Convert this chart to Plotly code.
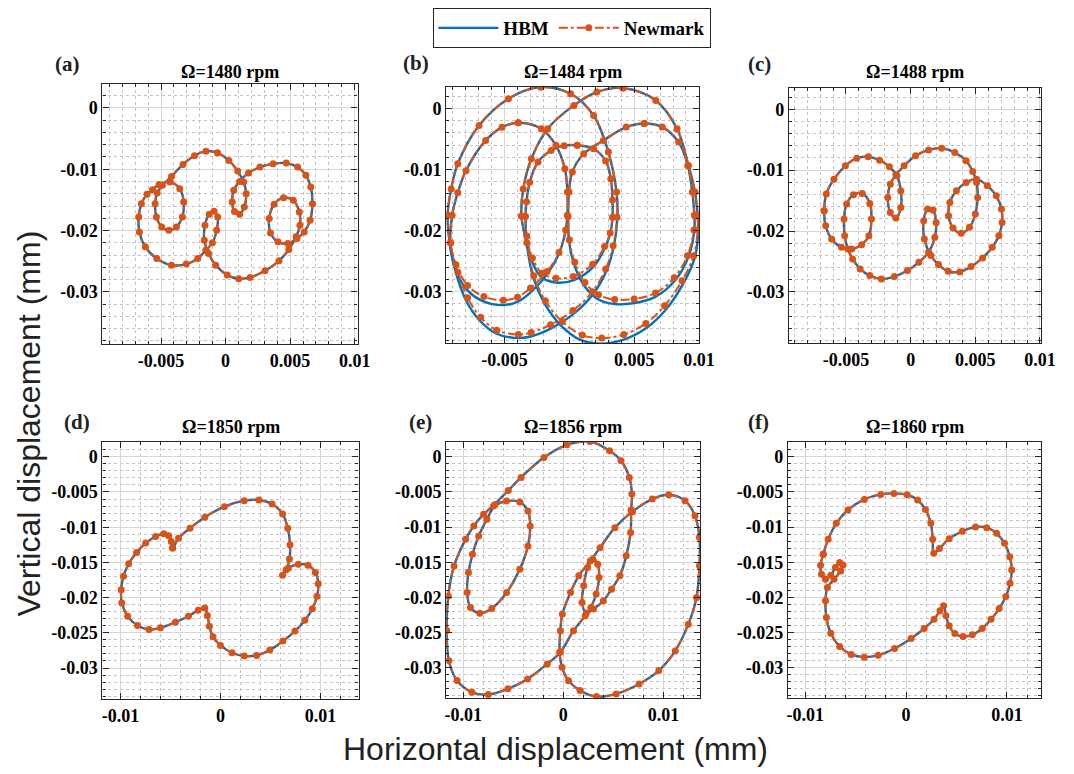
import plotly.graph_objects as go

# ---------------------------------------------------------------
# Orbit data, listed in units of 0.001 mm
# ---------------------------------------------------------------
UNIT = 1e-3

speeds = ["1480", "1484", "1488", "1850", "1856", "1860"]
panel_labels = ["(a)", "(b)", "(c)", "(d)", "(e)", "(f)"]

# (a) 1480 rpm
a_x = [-1.52, -2.16, -3.05, -4.19, -5.33, -6.22, -6.68, -6.73, -6.52, -6.09, -5.66, -5.15,
       -4.31, -3.55, -3.25, -3.35, -3.81, -4.39, -4.95, -5.36, -5.46, -5.30, -4.90, -4.19,
       -3.30, -2.41, -1.52, -0.63, 0.25, 0.94, 1.40, 1.60, 1.45, 1.09, 0.69, 0.51, 0.63,
       1.09, 1.78, 2.66, 3.68, 4.70, 5.58, 6.22, 6.60, 6.73, 6.55, 6.09, 5.53, 4.82, 4.06,
       3.48, 3.38, 3.76, 4.49, 5.25, 5.71, 5.76, 5.46, 4.90, 4.14, 3.05, 1.90, 1.02, 0.13,
       -0.76, -1.32, -1.65, -1.60, -1.27, -0.89, -0.61, -0.69, -1.02, -1.52]
a_y = [-23.2, -24.55, -25.47, -25.64, -24.55, -22.66, -20.22, -17.78, -15.61, -14.09, -13.33,
       -12.47, -12.09, -13.17, -15.34, -17.78, -19.40, -19.95, -19.40, -17.78, -15.61, -13.88,
       -12.63, -11.17, -9.21, -7.80, -7.05, -7.32, -8.56, -10.30, -12.09, -13.98, -16.15,
       -17.34, -16.91, -15.34, -13.44, -11.98, -10.62, -9.65, -9.11, -9.00, -9.65, -11.00,
       -12.90, -15.61, -18.32, -20.22, -21.30, -22.11, -21.84, -20.38, -18.05, -15.72, -14.63,
       -15.07, -16.96, -19.13, -21.03, -23.09, -24.93, -26.56, -27.64, -27.86, -27.26, -25.64,
       -23.74, -21.57, -19.13, -17.34, -16.86, -17.78, -19.95, -22.0, -23.2]

# (b) 1484 rpm : five loops (HBM)
b_hbm_x = [-2.22, 0.10, 1.87, 3.01, 3.64, 3.71, 3.43, 2.88, 1.87, 0.35, -1.41, -2.93, -3.94,
           -5.70, -6.97, -7.98, -8.74, -9.24, -9.40, -9.12, -8.61, -6.97, -4.70, -2.22, None,
           -3.94, -2.17, -1.04, -0.35, -0.15, -0.15, -0.28, -0.78, -1.67, -2.93, -3.94, -5.08,
           -6.72, -7.98, -8.86, -9.19, -9.05, -8.61, -7.98, -6.46, -5.20, -3.94, None,
           4.14, 6.67, 8.31, 9.19, 9.70, 9.90, 9.95, 9.70, 8.81, 7.42, 5.91, 4.14, 2.37, 0.86,
           -0.66, -1.92, -2.80, -3.31, -3.70, -3.56, -2.93, -1.67, 0.35, 2.12, 4.14, None,
           5.78, 7.17, 8.43, 9.14, 9.49, 9.65, 9.65, 9.19, 8.18, 6.67, 4.90, 3.38, 2.12, 1.11,
           0.35, -0.03, -0.10, -0.03, 0.23, 1.11, 2.63, 4.39, 5.78, None,
           0.61, 1.87, 2.80, 3.20, 3.33, 3.33, 3.15, 2.75, 1.87, 0.35, -1.04, -2.17, -2.93,
           -3.31, -3.38, -3.31, -3.06, -2.42, -1.41, -0.40, 0.61]
b_hbm_y = [3.49, 2.39, -1.16, -7.15, -13.7, -17.8, -22.6, -26.5, -30.3, -33.6, -36.0, -37.3,
           -37.6, -36.8, -34.6, -31.4, -27.0, -22.0, -17.5, -13.2, -9.06, -2.8, 1.58, 3.49, None,
           -2.35, -3.33, -6.05, -9.87, -13.7, -17.5, -19.9, -23.7, -27.0, -30.0, -31.6, -32.2,
           -31.5, -29.5, -25.9, -22.1, -17.5, -13.8, -10.2, -5.24, -3.1, -2.35, None,
           3.32, 1.30, -3.34, -9.33, -13.7, -17.5, -19.9, -24.3, -28.6, -33.0, -36.0, -37.9,
           -38.5, -37.9, -35.5, -31.9, -27.6, -22.1, -17.6, -13.2, -8.24, -3.33, 0.49, 2.67,
           3.32, None,
           -2.47, -3.06, -5.51, -9.33, -13.7, -17.5, -19.9, -24.3, -28.1, -30.8, -31.9, -32.0,
           -31.1, -28.9, -25.4, -21.6, -17.7, -13.7, -10.4, -7.43, -5.24, -3.06, -2.47, None,
           -6.05, -6.6, -8.6, -11.5, -15.0, -17.8, -20.5, -22.8, -25.9, -28.1, -28.5, -27.6,
           -24.8, -21.0, -17.7, -15.3, -12.1, -8.79, -6.88, -6.1, -6.05]

# (b) 1484 rpm : Newmark (slightly shallower at the bottoms)
b_nm_x = [-2.22, 0.10, 1.87, 3.01, 3.64, 3.68, 3.38, 2.80, 1.78, 0.28, -1.45, -2.95, -3.94,
          -5.60, -6.85, -7.85, -8.60, -9.20, -9.40, -9.12, -8.61, -6.97, -4.70, -2.22, None,
          -3.94, -2.17, -1.04, -0.35, -0.15, -0.15, -0.28, -0.80, -1.72, -3.00, -4.00, -5.10,
          -6.60, -7.85, -8.75, -9.15, -9.05, -8.61, -7.98, -6.46, -5.20, -3.94, None,
          4.14, 6.67, 8.31, 9.19, 9.70, 9.90, 9.90, 9.60, 8.70, 7.35, 5.90, 4.20, 2.50, 1.00,
          -0.55, -1.85, -2.75, -3.28, -3.70, -3.56, -2.93, -1.67, 0.35, 2.12, 4.14, None,
          5.78, 7.17, 8.43, 9.14, 9.49, 9.65, 9.62, 9.12, 8.10, 6.65, 5.00, 3.50, 2.25, 1.20,
          0.42, 0.00, -0.10, -0.03, 0.23, 1.11, 2.63, 4.39, 5.78, None,
          0.61, 1.87, 2.80, 3.20, 3.33, 3.33, 3.15, 2.72, 1.80, 0.30, -1.04, -2.10, -2.85,
          -3.28, -3.38, -3.31, -3.06, -2.42, -1.41, -0.40, 0.61]
b_nm_y = [3.49, 2.39, -1.16, -7.15, -13.7, -17.8, -22.5, -26.3, -30.0, -33.1, -35.4, -36.7,
          -37.0, -36.3, -34.2, -31.0, -26.8, -22.0, -17.5, -13.2, -9.06, -2.8, 1.58, 3.49, None,
          -2.35, -3.33, -6.05, -9.87, -13.7, -17.5, -19.9, -23.6, -26.7, -29.4, -30.9, -31.4,
          -30.8, -29.0, -25.6, -22.0, -17.5, -13.8, -10.2, -5.24, -3.1, -2.35, None,
          3.32, 1.30, -3.34, -9.33, -13.7, -17.5, -19.9, -24.1, -28.2, -32.3, -35.2, -37.0,
          -37.6, -37.1, -34.9, -31.5, -27.4, -22.0, -17.6, -13.2, -8.24, -3.33, 0.49, 2.67,
          3.32, None,
          -2.47, -3.06, -5.51, -9.33, -13.7, -17.5, -19.9, -24.1, -27.7, -30.2, -31.2, -31.3,
          -30.5, -28.5, -25.2, -21.5, -17.7, -13.7, -10.4, -7.43, -5.24, -3.06, -2.47, None,
          -6.05, -6.6, -8.6, -11.5, -15.0, -17.8, -20.4, -22.6, -25.5, -27.5, -27.8, -27.0,
          -24.5, -20.9, -17.7, -15.3, -12.1, -8.79, -6.88, -6.1, -6.05]

# (c) 1488 rpm
c_x = [-6.69, -6.52, -5.93, -5.05, -4.17, -3.28, -2.40, -1.64, -1.06, -0.76, -0.76, -1.14,
       -1.57, -1.77, -1.57, -1.14, -0.51, 0.38, 1.39, 2.40, 3.41, 4.29, 4.80, 5.10, 5.18,
       5.00, 4.55, 3.91, 3.28, 2.93, 3.03, 3.54, 4.29, 5.10, 5.93, 6.62, 7.02, 7.07, 6.82,
       6.31, 5.56, 4.67, 3.79, 2.90, 2.15, 1.57, 1.06, 1.01, 1.31, 1.72, 1.97, 1.87, 1.39,
       0.63, -0.25, -1.26, -2.27, -3.16, -3.91, -4.49, -4.85, -5.10, -5.15, -4.95, -4.42,
       -3.74, -3.16, -3.03, -3.23, -3.79, -4.55, -5.35, -6.11, -6.57, -6.69]
c_y = [-16.67, -13.93, -11.48, -9.29, -8.03, -7.81, -8.36, -9.45, -10.93, -13.39, -16.12,
       -17.87, -16.94, -14.48, -12.30, -10.77, -9.29, -7.65, -6.67, -6.39, -7.10, -8.47,
       -10.22, -12.02, -14.48, -17.21, -19.40, -20.38, -19.51, -17.49, -15.30, -13.39, -12.02,
       -11.48, -12.57, -14.21, -16.39, -18.58, -20.77, -22.68, -24.43, -25.85, -26.72, -26.61,
       -25.52, -24.04, -21.31, -18.31, -16.39, -16.56, -18.58, -21.04, -23.50, -25.14, -26.50,
       -27.49, -27.87, -27.32, -26.23, -24.59, -22.95, -20.77, -18.03, -15.57, -14.04, -13.83,
       -15.46, -18.03, -20.77, -22.24, -22.95, -22.68, -21.31, -19.13, -16.67]

# (d) 1850 rpm
d_x = [-4.79, -4.20, -3.05, -1.57, 0.39, 2.36, 3.84, 5.15, 6.20, 6.72, 6.95, 6.89, 6.56,
       6.20, 6.79, 7.77, 8.75, 9.48, 9.77, 9.64, 9.18, 8.43, 7.44, 6.23, 4.92, 3.61, 2.36,
       1.15, 0.00, -0.75, -1.11, -1.31, -1.57, -2.23, -3.21, -4.52, -6.00, -7.15, -8.30,
       -9.28, -9.87, -9.93, -9.70, -9.18, -8.39, -7.48, -6.49, -5.67, -5.18, -4.92, -4.79]
d_y = [-12.97, -11.56, -10.14, -8.58, -7.08, -6.23, -6.13, -6.70, -8.11, -10.14, -12.50,
       -14.53, -16.04, -16.84, -15.80, -15.28, -15.42, -16.42, -18.02, -19.81, -21.60, -23.21,
       -24.76, -26.18, -27.45, -28.21, -28.30, -27.83, -26.79, -25.57, -24.06, -22.55, -21.46,
       -21.79, -22.64, -23.49, -24.29, -24.53, -23.96, -22.64, -20.75, -18.87, -16.98, -15.19,
       -13.58, -12.26, -11.32, -10.94, -11.23, -12.03, -12.97]

# (e) 1856 rpm : two big loops (A with the two small loops, then B)
e_x = [6.78, 6.72, 6.29, 5.64, 4.82, 4.00, 3.01, 2.29, 1.87, 2.03, 2.43, 2.95, 3.44, 3.57,
       3.28, 2.75, 2.19, 1.01, -0.30, -1.61, -3.57, -5.54, -7.50, -9.14, -10.62, -11.44,
       -11.65, -11.50, -10.92, -9.77, -8.95, -7.97, -6.98, -5.67, -4.36, -3.54, -3.31, -3.54,
       -4.36, -5.67, -7.15, -8.36, -9.28, -9.61, -9.48, -9.08, -8.46, -7.64, -6.82, -5.50,
       -4.23, -1.94, 0.36, 2.65, 4.62, 5.77, 6.59, 6.85, 6.78, None,
       6.90, 8.89, 10.53, 12.16, 13.15, 13.60, 13.60, 13.31, 12.49, 11.18, 9.54, 7.57, 5.28,
       3.31, 1.67, 0.52, -0.13, -0.37, -0.30, -0.10, 0.72, 1.54, 2.69, 3.67, 5.15, 6.90]
e_y = [-7.60, -10.78, -14.09, -16.93, -18.82, -20.48, -21.66, -22.23, -20.71, -18.35, -15.75,
       -14.57, -15.28, -17.17, -19.53, -21.42, -22.60, -24.74, -27.80, -29.46, -31.59, -33.00,
       -33.81, -33.48, -31.82, -29.00, -24.70, -19.78, -15.52, -11.74, -9.84, -8.19, -7.00,
       -6.29, -6.44, -7.71, -9.84, -12.68, -16.00, -19.31, -21.58, -22.24, -21.44, -19.31,
       -16.47, -13.87, -11.26, -8.90, -6.77, -4.80, -2.93, -0.10, 1.70, 2.17, 0.85, -0.57,
       -2.93, -5.30, -7.60, None,
       -7.80, -6.01, -5.40, -6.24, -8.37, -11.45, -15.50, -20.00, -23.80, -27.60, -30.40,
       -32.30, -33.72, -34.10, -33.24, -31.83, -29.93, -27.80, -24.74, -22.37, -19.29, -16.93,
       -14.81, -12.92, -10.08, -7.80]

# (f) 1860 rpm
f_x = [-8.22, -7.73, -6.92, -5.77, -4.14, -2.51, -1.21, 0.10, 1.14, 1.92, 2.45, 2.64, 2.74,
       3.30, 4.27, 5.58, 6.88, 7.99, 8.97, 9.76, 10.28, 10.47, 10.31, 9.89, 9.23, 8.42, 7.54,
       6.56, 5.64, 4.83, 4.27, 3.95, 3.72, 3.36, 2.77, 1.79, 0.49, -1.14, -2.77, -4.14,
       -5.45, -6.59, -7.47, -7.90, -7.99, -7.80, -7.15, -6.49, -6.26, -6.59, -7.01, -7.47,
       -7.99, -8.39, -8.48, -8.22]
f_y = [-13.87, -11.74, -9.47, -7.57, -6.06, -5.35, -5.21, -5.40, -6.15, -7.48, -9.47, -11.74,
       -13.72, -13.06, -11.64, -10.60, -9.99, -10.08, -10.88, -12.30, -14.20, -16.09, -17.98,
       -19.88, -21.58, -23.10, -24.42, -25.32, -25.56, -25.13, -24.04, -22.62, -21.20, -21.91,
       -23.10, -24.42, -25.84, -27.26, -28.21, -28.49, -28.11, -26.98, -25.08, -22.86, -20.49,
       -18.60, -17.42, -16.23, -15.38, -15.05, -15.76, -16.85, -17.42, -16.71, -15.43, -13.87]

hbm_x = [a_x, b_hbm_x, c_x, d_x, e_x, f_x]
hbm_y = [a_y, b_hbm_y, c_y, d_y, e_y, f_y]
nm_x = [a_x, b_nm_x, c_x, d_x, e_x, f_x]
nm_y = [a_y, b_nm_y, c_y, d_y, e_y, f_y]

# axis ranges (mm) and tick labels
x_ranges = [[-0.00954, 0.01023], [-0.0095, 0.01004], [-0.0094, 0.0101],
            [-0.0118, 0.0138], [-0.0117, 0.0137], [-0.0117, 0.0134]]
y_ranges = [[-0.0385, 0.0039], [-0.0384, 0.0035], [-0.0384, 0.0035],
            [-0.0344, 0.0021], [-0.0343, 0.0021], [-0.0343, 0.0021]]
top_xticks = [-0.005, 0, 0.005, 0.01]
top_xtext = ["-0.005", "0", "0.005", "0.01"]
top_yticks = [0, -0.01, -0.02, -0.03]
top_ytext = ["0", "-0.01", "-0.02", "-0.03"]
bot_xticks = [-0.01, 0, 0.01]
bot_xtext = ["-0.01", "0", "0.01"]
bot_yticks = [0, -0.005, -0.01, -0.015, -0.02, -0.025, -0.03]
bot_ytext = ["0", "-0.005", "-0.01", "-0.015", "-0.02", "-0.025", "-0.03"]

# ---------------------------------------------------------------
W, H = 1074, 774
BLUE = "#0072BD"
ORANGE = "#D95319"
SERIF = "Liberation Serif"
SANS = "Liberation Sans"

# pixel boxes of the six axes: (left, right, top, bottom)
boxes = [(103, 362, 84, 344), (452, 709, 87, 343), (800, 1056, 88, 343),
         (103, 363, 442, 699), (452, 710, 442, 698), (799, 1056, 442, 698)]

fig = go.Figure()
layout = dict(width=W, height=H, margin=dict(l=0, r=0, t=0, b=0),
              paper_bgcolor="white", plot_bgcolor="white", showlegend=True)

tick_font = dict(family=SERIF, size=18, color="black", weight="bold")

annotations = []
for i in range(6):
    n = "" if i == 0 else str(i + 1)
    L, R, T, B = boxes[i]
    xd = [L / W, R / W]
    yd = [1 - B / H, 1 - T / H]
    top = i < 3
    xa = dict(domain=xd, anchor="y" + n, range=x_ranges[i],
              tickmode="array",
              tickvals=top_xticks if top else bot_xticks,
              ticktext=top_xtext if top else bot_xtext,
              minor=dict(tickmode="linear", tick0=0, dtick=0.001 if top else 0.002,
                         ticks="inside", ticklen=3, tickcolor="#262626",
                         showgrid=True, gridcolor="#c4c4c4", griddash="dot", gridwidth=1))
    ya = dict(domain=yd, anchor="x" + n, range=y_ranges[i],
              tickmode="array",
              tickvals=top_yticks if top else bot_yticks,
              ticktext=top_ytext if top else bot_ytext,
              minor=dict(tickmode="linear", tick0=0, dtick=0.002 if top else 0.001,
                         ticks="inside", ticklen=3, tickcolor="#262626",
                         showgrid=True, gridcolor="#c4c4c4", griddash="dot", gridwidth=1))
    for ax in (xa, ya):
        ax.update(showline=True, linecolor="#262626", linewidth=1.3, mirror="allticks",
                  ticks="inside", ticklen=6, tickwidth=1, tickcolor="#262626",
                  showgrid=True, gridcolor="#d6d6d6", gridwidth=1, zeroline=False,
                  tickfont=tick_font, fixedrange=True)
    layout["xaxis" + n] = xa
    layout["yaxis" + n] = ya

    hx = [None if v is None else v * UNIT for v in hbm_x[i]]
    hy = [None if v is None else v * UNIT for v in hbm_y[i]]
    nx = [None if v is None else v * UNIT for v in nm_x[i]]
    ny = [None if v is None else v * UNIT for v in nm_y[i]]

    fig.add_trace(go.Scatter(x=hx, y=hy, mode="lines", name="HBM",
                             line=dict(color=BLUE, width=2.4, shape="spline", smoothing=1.0),
                             legendgroup="hbm", showlegend=(i == 0),
                             xaxis="x" + n, yaxis="y" + n))
    fig.add_trace(go.Scatter(x=nx, y=ny, mode="lines+markers", name="Newmark",
                             line=dict(color=ORANGE, width=2, dash="dashdot",
                                       shape="spline", smoothing=1.0),
                             marker=dict(color=ORANGE, size=7, symbol="circle"),
                             legendgroup="nm", showlegend=(i == 0),
                             xaxis="x" + n, yaxis="y" + n))

    # subplot title
    cx = (L + R) / 2 / W
    ty = 72 if top else 427
    annotations.append(dict(text="Ω=" + speeds[i] + " rpm", x=cx, y=1 - ty / H,
                            xref="paper", yref="paper", xanchor="center", yanchor="middle",
                            showarrow=False,
                            font=dict(family=SERIF, size=18, color="black", weight="bold")))

label_pos = [(68, 64), (421, 63), (770, 64), (77, 422), (426, 422), (769, 422)]
for lab, (px, py) in zip(panel_labels, label_pos):
    annotations.append(dict(text=lab, x=px / W, y=1 - py / H, xref="paper", yref="paper",
                            xanchor="center", yanchor="middle", showarrow=False,
                            font=dict(family=SERIF, size=21, color="#222222", weight="bold")))

annotations.append(dict(text="Vertical displacement (mm)", x=28 / W, y=1 - 424 / H,
                        xref="paper", yref="paper", xanchor="center", yanchor="middle",
                        textangle=-90, showarrow=False,
                        font=dict(family=SANS, size=32, color="#222222")))
annotations.append(dict(text="Horizontal displacement (mm)", x=563 / W, y=1 - 749 / H,
                        xref="paper", yref="paper", xanchor="center", yanchor="middle",
                        showarrow=False,
                        font=dict(family=SANS, size=32, color="#222222")))

layout["annotations"] = annotations
layout["legend"] = dict(orientation="h", x=580 / W, xanchor="center", y=1 - 8 / H,
                        yanchor="top", bgcolor="white", bordercolor="#262626", borderwidth=1,
                        font=dict(family=SERIF, size=19, color="black", weight="bold"),
                        itemwidth=60, tracegroupgap=0)
fig.update_layout(**layout)

fig.write_html("out.html")
